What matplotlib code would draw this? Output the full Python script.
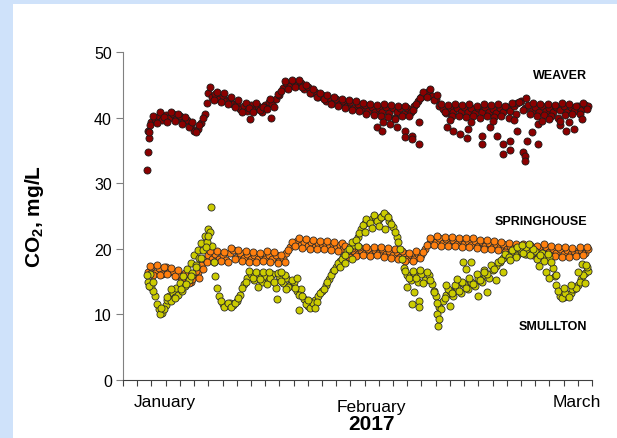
import numpy as np
import matplotlib.pyplot as plt
from matplotlib.patches import Rectangle
import matplotlib.transforms as mtransforms

plt.rcParams['font.family'] = ['Liberation Sans', 'DejaVu Sans']
plt.rcParams['mathtext.fontset'] = 'custom'
plt.rcParams['mathtext.rm'] = 'Liberation Sans'
plt.rcParams['mathtext.bf'] = 'Liberation Sans:bold'

# readings every half day (day 0 = axis start); "a" lists start at day 3.5,
# "b" lists are the in-between readings starting at day 3.75
step = 0.5
start_a = 3.5
start_b = 3.75

weaver_a = [38.0, 39.3, 39.8, 40.2, 39.6, 40.4, 39.9, 40.6, 39.8, 40.2, 39.4, 39.7, 38.8, 38.0, 38.3,
            39.2, 40.6, 43.8, 43.2, 43.6, 42.9, 43.3, 42.5, 42.8, 42.0, 42.2, 41.3, 41.8, 41.0, 41.9,
            41.2, 41.7, 40.8, 41.9, 42.4, 42.0, 42.8, 43.5, 44.5, 45.3, 44.8, 45.5, 44.9, 45.3, 44.4,
            44.6, 43.7, 43.9, 43.2, 43.4, 42.6, 43.0, 42.3, 42.8, 42.0, 42.6, 41.8, 42.4, 41.5, 42.1,
            41.2, 41.9, 41.0, 41.6, 40.8, 41.5, 40.9, 41.6, 40.7, 41.4, 40.8, 41.5, 40.6, 41.4, 40.9,
            41.8, 42.5, 43.2, 43.6, 44.0, 43.3, 42.8, 41.8, 41.3, 40.7, 41.4, 40.8, 41.5, 40.9, 41.6,
            40.8, 41.4, 40.7, 41.5, 40.9, 41.6, 40.8, 41.3, 40.7, 41.5, 40.9, 41.6, 41.0, 41.8, 42.3,
            42.6, 41.5, 41.9, 41.0, 41.6, 40.9, 41.7, 41.0, 41.5, 40.8, 41.6, 41.1, 41.8, 40.9, 41.6,
            41.0, 41.7, 41.2, 41.9, 41.8]
weaver_b = [38.8, 40.3, 39.2, 40.9, 40.1, 39.3, 40.9, 39.5, 40.6, 39.0, 40.1, 38.6, 39.3, 37.8, 38.9,
            39.9, 42.2, 44.6, 42.7, 43.9, 42.4, 43.8, 42.1, 43.1, 41.6, 42.7, 40.9, 42.3, 41.5, 40.8,
            42.2, 41.1, 41.6, 41.3, 42.9, 41.6, 43.6, 44.0, 45.6, 44.4, 45.8, 44.6, 45.7, 44.7, 45.0,
            43.8, 44.3, 43.1, 43.8, 42.9, 43.4, 42.0, 43.1, 41.8, 42.9, 41.4, 42.7, 41.2, 42.6, 41.0,
            42.3, 40.6, 42.1, 40.4, 41.9, 40.2, 42.0, 40.1, 41.9, 40.0, 41.7, 40.2, 41.8, 40.3, 41.2,
            42.1, 43.0, 43.9, 43.2, 44.3, 42.7, 43.4, 42.0, 40.8, 41.9, 40.3, 42.0, 40.2, 41.9, 40.1,
            42.0, 40.2, 41.8, 40.0, 42.1, 40.3, 41.9, 40.1, 42.0, 40.2, 41.7, 40.0, 42.2, 40.5, 42.4,
            41.1, 43.0, 40.6, 42.2, 40.2, 42.0, 40.4, 42.1, 40.3, 41.9, 40.0, 42.3, 40.4, 42.0, 40.5,
            41.8, 40.6, 42.2, 41.3]

springhouse_a = [16.5, 17.2, 16.3, 17.0, 16.2, 17.2, 16.4, 16.6, 15.8, 16.0, 15.2, 15.6, 14.9, 15.8, 16.5,
                 17.5, 18.5, 19.0, 18.4, 19.2, 18.5, 19.0, 18.3, 19.3, 19.8, 18.8, 19.4, 18.6, 19.2, 18.5,
                 19.1, 18.4, 19.0, 18.5, 19.1, 18.4, 19.0, 18.2, 18.6, 19.3, 20.2, 20.8, 21.2, 20.6, 21.1,
                 20.4, 21.0, 20.3, 20.9, 20.3, 20.8, 20.2, 20.7, 20.1, 20.6, 19.9, 19.4, 19.1, 19.7, 19.2,
                 19.8, 19.3, 19.9, 19.2, 19.8, 19.3, 19.9, 19.2, 19.7, 19.0, 19.5, 18.7, 19.3, 18.4, 19.0,
                 18.5, 19.2, 19.0, 20.0, 20.8, 21.3, 21.0, 21.6, 20.9, 21.5, 20.8, 21.4, 20.8, 21.3, 20.7,
                 21.2, 20.6, 21.2, 20.5, 21.0, 20.4, 20.9, 20.3, 20.8, 20.2, 20.7, 19.9, 20.5, 19.8, 20.4,
                 19.7, 20.3, 19.6, 20.2, 19.5, 20.1, 19.4, 20.3, 19.5, 20.0, 19.3, 19.9, 19.2, 19.8, 19.2,
                 19.7, 19.3, 19.8, 19.4, 19.9]
springhouse_b = [17.4, 16.0, 17.5, 16.0, 17.3, 16.1, 17.0, 15.9, 16.8, 15.4, 16.3, 14.8, 15.4, 16.6, 15.6,
                 16.9, 18.0, 19.6, 18.0, 19.6, 18.1, 19.5, 18.0, 20.1, 18.4, 19.8, 18.2, 19.6, 18.0, 19.5,
                 18.0, 19.4, 18.1, 19.6, 18.0, 19.5, 17.9, 19.0, 18.0, 19.8, 21.0, 20.4, 21.6, 20.1, 21.5,
                 20.0, 21.4, 19.9, 21.2, 19.9, 21.2, 19.8, 21.0, 19.7, 20.9, 20.4, 18.8, 20.1, 18.9, 20.2,
                 19.0, 20.3, 18.9, 20.3, 19.0, 20.2, 18.8, 20.1, 18.6, 19.9, 18.4, 19.6, 18.1, 19.4, 18.2,
                 19.6, 18.6, 19.5, 20.6, 21.7, 20.6, 22.0, 20.5, 21.8, 20.4, 21.8, 20.4, 21.7, 20.3, 21.6,
                 20.2, 21.6, 20.1, 21.4, 20.0, 21.3, 19.9, 21.2, 19.8, 21.1, 19.5, 20.9, 19.4, 20.8, 19.3,
                 20.7, 19.2, 20.6, 19.1, 20.5, 19.0, 20.7, 19.1, 20.4, 18.9, 20.3, 18.8, 20.2, 18.8, 20.1,
                 18.9, 20.2, 19.0, 20.2]

smullton_a = [15.0, 14.2, 12.8, 10.8, 10.2, 11.5, 12.8, 13.3, 14.0, 14.8, 15.9, 16.9, 17.9, 19.0, 19.8,
              20.9, 22.0, 23.0, 20.5, 15.8, 12.8, 11.6, 11.4, 11.7, 11.4, 12.0, 13.0, 14.6, 15.6, 16.2,
              15.3, 16.0, 15.0, 15.8, 15.2, 16.2, 14.0, 15.9, 14.8, 15.6, 14.5, 14.9, 13.5, 13.9, 12.4,
              11.3, 11.5, 12.2, 12.8, 13.5, 14.5, 15.4, 16.6, 17.3, 18.2, 18.7, 19.6, 20.2, 20.6, 21.8,
              23.0, 23.9, 24.3, 24.6, 24.9, 24.5, 25.0, 25.2, 24.3, 23.3, 21.8, 20.0, 17.0, 16.0, 15.2,
              16.3, 15.0, 16.2, 15.3, 16.0, 14.6, 12.8, 11.2, 12.0, 12.9, 13.5, 12.8, 14.0, 13.2, 14.6,
              13.8, 15.0, 14.3, 15.5, 14.9, 16.0, 15.6, 16.8, 17.4, 18.0, 18.6, 19.0, 19.2, 19.4, 19.0,
              19.6, 19.2, 19.8, 19.3, 19.6, 18.9, 19.3, 18.7, 18.8, 17.0, 14.5, 12.8, 12.7, 12.9, 13.3,
              13.8, 14.5, 15.4, 16.3, 16.6]
smullton_b = [16.2, 13.5, 11.6, 10.0, 10.8, 12.2, 12.0, 12.7, 13.0, 13.6, 14.3, 15.2, 16.3, 17.5, 18.6,
              19.8, 21.0, 22.5, 18.0, 14.0, 12.0, 11.2, 11.8, 11.2, 11.8, 12.5, 14.0, 15.0, 16.6, 15.6,
              16.4, 15.4, 16.5, 14.6, 15.5, 15.0, 16.3, 15.1, 16.0, 14.2, 15.3, 14.1, 12.9, 12.8, 11.6,
              11.0, 11.8, 11.9, 13.2, 13.9, 14.9, 16.0, 16.8, 17.9, 18.5, 19.1, 19.9, 21.0, 21.4, 22.4,
              23.6, 24.5, 24.0, 25.1, 24.2, 24.8, 25.4, 24.8, 23.8, 22.6, 21.0, 18.5, 16.6, 15.6, 16.6,
              15.5, 16.8, 14.8, 16.5, 15.3, 13.6, 11.8, 10.8, 12.5, 13.8, 13.2, 14.5, 13.6, 15.0, 14.1,
              15.6, 14.6, 16.2, 15.3, 16.8, 16.2, 17.5, 16.9, 18.0, 18.3, 19.2, 18.8, 19.8, 18.7, 20.1,
              19.3, 20.3, 19.0, 20.0, 18.5, 19.0, 18.2, 19.2, 18.0, 15.8, 13.6, 12.5, 13.2, 12.6, 13.8,
              14.0, 15.0, 16.0, 17.2]

# scattered readings (day, value)
weaver_extra_day = [3.4, 3.5, 3.6, 3.7, 17.8, 20.8, 35.7, 36.4, 36.6, 37.6, 38.3, 38.5, 39.7, 39.7,
                    40.6, 40.6, 41.6, 41.7, 45.6, 46.5, 47.4, 48.4, 48.5, 50.5, 50.5, 51.6, 52.6,
                    53.5, 53.5, 54.5, 54.5, 55.4, 56.3, 56.6, 56.6, 56.8, 57.5, 58.4, 58.4, 61.5,
                    62.4, 63.4, 61.5, 64.6, 46.0, 49.0, 52.0, 55.0, 59.0, 60.0, 62.8]
weaver_extra_val = [32.0, 34.7, 36.9, 37.8, 39.8, 40.0, 38.5, 38.0, 39.3, 39.0, 39.8, 38.5, 38.0, 37.0,
                    37.2, 36.7, 36.0, 39.3, 38.5, 38.0, 37.5, 36.9, 38.3, 37.2, 36.0, 38.5, 37.2,
                    36.0, 34.5, 36.5, 35.0, 38.0, 34.7, 34.2, 33.4, 36.5, 37.8, 36.0, 39.0, 38.8,
                    38.0, 38.3, 39.5, 39.8, 39.6, 39.4, 39.5, 39.6, 39.5, 39.8, 39.4]

smullton_extra_day = [3.4, 3.6, 4.2, 5.4, 6.2, 6.8, 7.3, 8.2, 8.8, 9.6, 10.3, 11.0, 11.7, 12.0, 12.4,
                      19.0, 20.6, 21.6, 22.2, 23.0, 24.5, 24.8, 26.0, 27.0,
                      30.5, 31.2, 32.2, 33.0, 34.0, 35.0, 36.0, 36.8,
                      40.0, 40.6, 41.0, 41.6, 41.7, 43.8, 44.2, 44.3, 44.5, 45.5, 46.0, 47.0, 47.9,
                      49.0, 48.3, 50.0, 50.8, 51.2, 52.5, 53.5, 54.5, 55.5, 56.2, 57.2, 58.5, 59.5,
                      60.0, 61.0, 62.0, 63.0, 64.0, 64.6, 65.2, 65.0]
smullton_extra_val = [16.0, 14.3, 15.0, 11.0, 12.6, 13.8, 12.5, 13.8, 14.6, 15.8, 17.2, 18.6, 20.3, 22.0, 26.3,
                      14.2, 16.4, 12.3, 16.5, 13.8, 15.5, 10.6, 12.2, 11.0,
                      17.2, 17.8, 18.5, 20.5, 22.5, 23.2, 23.5, 23.0,
                      14.2, 11.6, 13.4, 12.1, 11.1, 13.4, 10.0, 8.2, 9.3, 14.5, 11.3, 15.4, 18.0,
                      18.0, 16.9, 12.8, 16.5, 13.4, 15.3, 16.5, 18.3, 20.3, 20.6, 20.8, 17.4, 16.5,
                      15.6, 16.0, 14.0, 14.5, 16.5, 17.7, 17.5, 14.8]

month_labels = ['January', 'February', 'March']
month_days = [5.9, 35.0, 63.9]

fig = plt.figure(figsize=(6.17, 4.39), dpi=100)
fig.patch.set_facecolor('#cfe2fa')
# white panel behind the chart
bg = fig.add_axes([13 / 617, 0, 1 - 13 / 617, 434 / 439], zorder=-1)
bg.axis('off')
bg.add_patch(Rectangle((0, 0), 1, 1, transform=bg.transAxes, facecolor='white', edgecolor='none'))

ax = fig.add_axes([0.1994, 0.1321, 0.7601, 0.7472])
ax.set_facecolor('none')

def days_for(vals, start):
    return start + step * np.arange(len(vals))

ms = 26
ew = 0.6
styles = {
    'weaver': dict(c='#8b0000', edgecolors='#1a1a1a'),
    'springhouse': dict(c='#ff7f0e', edgecolors='#2a2a2a'),
    'smullton': dict(c='#cccc00', edgecolors='#2a2a2a'),
}

ax.scatter(days_for(weaver_a, start_a), weaver_a, s=ms, linewidths=ew, zorder=3, **styles['weaver'])
ax.scatter(days_for(weaver_b, start_b), weaver_b, s=ms, linewidths=ew, zorder=3, **styles['weaver'])
ax.scatter(weaver_extra_day, weaver_extra_val, s=ms, linewidths=ew, zorder=3, **styles['weaver'])
ax.scatter(days_for(springhouse_a, start_a), springhouse_a, s=ms, linewidths=ew, zorder=3, **styles['springhouse'])
ax.scatter(days_for(springhouse_b, start_b), springhouse_b, s=ms, linewidths=ew, zorder=3, **styles['springhouse'])
ax.scatter(days_for(smullton_a, start_a), smullton_a, s=ms, linewidths=ew, zorder=4, **styles['smullton'])
ax.scatter(days_for(smullton_b, start_b), smullton_b, s=ms, linewidths=ew, zorder=4, **styles['smullton'])
ax.scatter(smullton_extra_day, smullton_extra_val, s=ms, linewidths=ew, zorder=4, **styles['smullton'])

ax.set_xlim(0, 66)
ax.set_ylim(0, 50)
ax.set_yticks([0, 10, 20, 30, 40, 50])
ax.set_xticks(np.arange(0, 67, 2))
ax.set_xticklabels([])
ax.tick_params(axis='y', direction='out', length=5, color='#808080', labelsize=11.5, pad=3)
ax.tick_params(axis='x', direction='out', length=4, color='#404040')
for side in ['top', 'right']:
    ax.spines[side].set_visible(False)
ax.spines['left'].set_color('#808080')
ax.spines['bottom'].set_color('#404040')

trans = mtransforms.blended_transform_factory(ax.transData, ax.transAxes)
yoffs = [-0.064, -0.082, -0.064]
for lab, d, yo in zip(month_labels, month_days, yoffs):
    ax.text(d, yo, lab, transform=trans, ha='center', va='center', fontsize=12.5)
ax.text(35.0, -0.134, '2017', transform=trans, ha='center', va='center', fontsize=15, fontweight='bold')

ax.set_ylabel(r'$\mathbf{CO_2}$, mg/L', fontsize=15, fontweight='bold')
ax.yaxis.set_label_coords(-0.165, 0.5)

ax.text(65.3, 46.5, 'WEAVER', ha='right', va='center', fontsize=9, fontweight='bold')
ax.text(65.3, 24.3, 'SPRINGHOUSE', ha='right', va='center', fontsize=9, fontweight='bold')
ax.text(65.3, 8.3, 'SMULLTON', ha='right', va='center', fontsize=9, fontweight='bold')

fig.savefig('out.png', dpi=100)
